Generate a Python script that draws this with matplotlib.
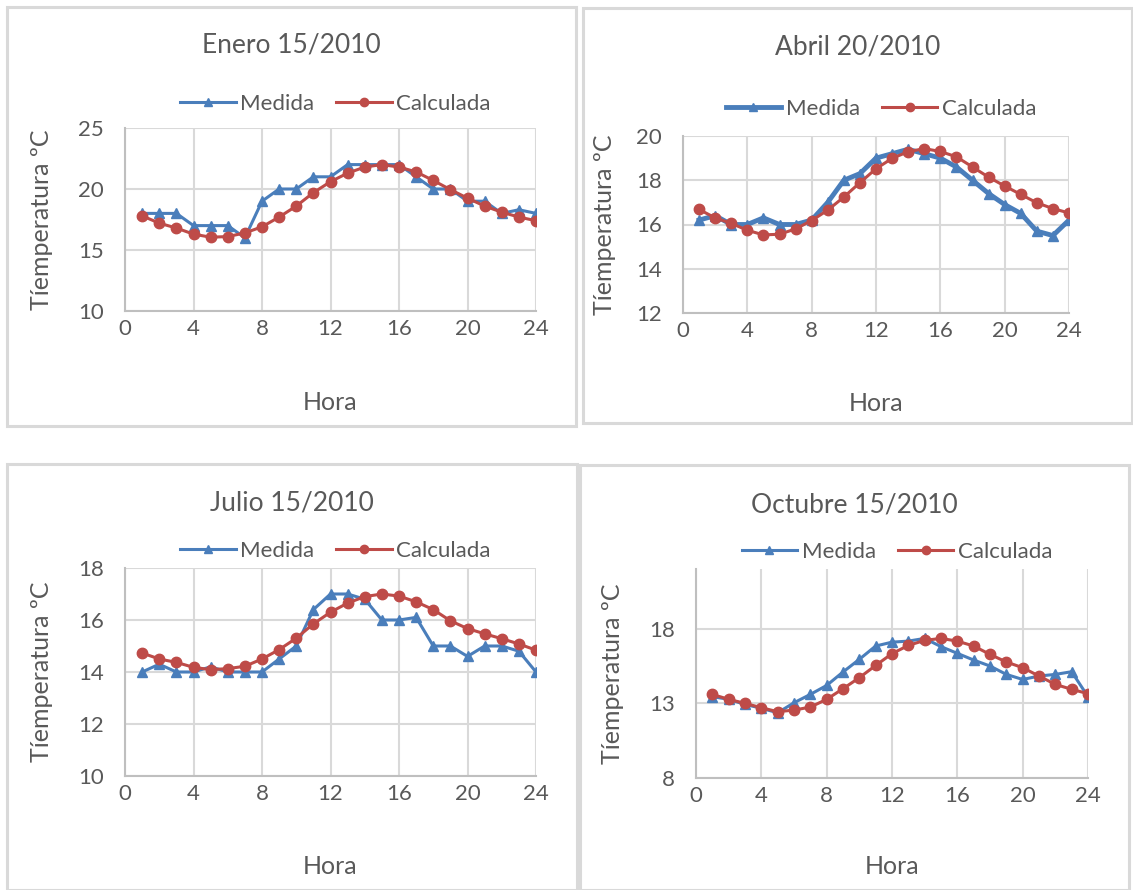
import matplotlib
matplotlib.use('Agg')
import matplotlib.pyplot as plt
from matplotlib.patches import Rectangle

plt.rcParams['font.family'] = ['Lato', 'DejaVu Sans']

W, H = 1133, 890

horas = list(range(1, 25))

# Enero 15/2010
enero_medida = [18, 18, 18, 17, 17, 17, 16, 19, 20, 20, 21, 21,
                22, 22, 22, 22, 21, 20, 20, 19, 19, 18, 18.3, 18]
enero_calculada = [17.8, 17.2, 16.8, 16.3, 16.05, 16.1, 16.4, 16.9, 17.7, 18.6, 19.7, 20.6,
                   21.3, 21.8, 22.0, 21.8, 21.4, 20.7, 19.95, 19.25, 18.6, 18.1, 17.7, 17.4]

# Abril 20/2010
abril_medida = [16.2, 16.4, 16.0, 16.0, 16.3, 16.0, 16.0, 16.2, 17.0, 18.0, 18.3, 19.0,
                19.2, 19.4, 19.2, 19.0, 18.6, 18.0, 17.4, 16.9, 16.5, 15.7, 15.5, 16.2]
abril_calculada = [16.68, 16.3, 16.05, 15.74, 15.53, 15.56, 15.8, 16.18, 16.65, 17.24, 17.89, 18.52,
                   18.99, 19.29, 19.43, 19.3, 19.06, 18.6, 18.14, 17.74, 17.36, 16.98, 16.72, 16.52]

# Julio 15/2010
julio_medida = [14.0, 14.3, 14.0, 14.0, 14.2, 14.0, 14.0, 14.0, 14.5, 15.0, 16.4, 17.0,
                17.0, 16.8, 16.0, 16.0, 16.1, 15.0, 15.0, 14.6, 15.0, 15.0, 14.8, 14.0]
julio_calculada = [14.73, 14.5, 14.37, 14.18, 14.09, 14.13, 14.22, 14.5, 14.86, 15.3, 15.85, 16.3,
                   16.65, 16.9, 17.0, 16.92, 16.7, 16.4, 15.97, 15.67, 15.47, 15.28, 15.08, 14.84]

# Octubre 15/2010
octubre_medida = [13.45, 13.27, 12.93, 12.67, 12.37, 13.04, 13.6, 14.2, 15.1, 15.95, 16.84, 17.1,
                  17.17, 17.35, 16.8, 16.35, 15.9, 15.5, 14.94, 14.6, 14.83, 14.94, 15.12, 13.45]
octubre_calculada = [13.6, 13.27, 13.0, 12.71, 12.44, 12.55, 12.75, 13.27, 13.98, 14.72, 15.54, 16.33,
                     16.88, 17.22, 17.35, 17.17, 16.84, 16.28, 15.77, 15.39, 14.83, 14.27, 13.94, 13.65]

BLUE = '#4a7ebb'
RED = '#be4b48'
TXT = '#595959'
GRID = '#d9d9d9'

fig = plt.figure(figsize=(W / 100, H / 100), dpi=100)


def fx(x):
    return x / W


def fy(y):
    return 1 - y / H


def panel(box, area, title, title_y, leg_y, ylab_x, xlab_y, medida, calculada,
          ylim, yticks, blue_lw=2.2):
    # grey frame around each chart
    bx0, by0, bx1, by1 = box
    fig.patches.append(Rectangle((fx(bx0), fy(by1)), fx(bx1 - bx0), (by1 - by0) / H,
                                 transform=fig.transFigure, fill=False,
                                 ec=GRID, lw=2.2))
    x0, y0, x1, y1 = area
    ax = fig.add_axes([fx(x0), fy(y1), fx(x1 - x0), (y1 - y0) / H])
    ax.plot(horas, medida, color=BLUE, lw=blue_lw, marker='^', ms=7.5,
            label='Medida', zorder=3)
    ax.plot(horas, calculada, color=RED, lw=2.2, marker='o', ms=7.5,
            label='Calculada', zorder=3)
    ax.set_xlim(0, 24)
    ax.set_xticks([0, 4, 8, 12, 16, 20, 24])
    ax.set_ylim(*ylim)
    ax.set_yticks(yticks)
    ax.grid(True, color=GRID, lw=1.5)
    ax.set_axisbelow(True)
    for s in ['top', 'right']:
        ax.spines[s].set_visible(False)
    for s in ['left', 'bottom']:
        ax.spines[s].set_color('#bfbfbf')
        ax.spines[s].set_linewidth(1.5)
    ax.tick_params(length=0, labelsize=16, colors=TXT)
    ax.tick_params(axis='x', pad=6)
    ax.tick_params(axis='y', pad=15)
    cx = (bx0 + bx1) / 2
    fig.text(fx(cx), fy(title_y), title, ha='center', va='center',
             fontsize=19, color=TXT)
    fig.text(fx(ylab_x), fy((y0 + y1) / 2), 'Tíemperatura ºC', rotation=90,
             ha='center', va='center', fontsize=18, color=TXT)
    fig.text(fx((x0 + x1) / 2), fy(xlab_y), 'Hora', ha='center', va='center',
             fontsize=18, color=TXT)
    fig.legend(handles=ax.get_lines(), loc='center',
               bbox_to_anchor=(fx((x0 + x1) / 2 + 5), fy(leg_y)), ncol=2,
               frameon=False, fontsize=16, handlelength=2.5, handletextpad=0.2,
               columnspacing=1.0, markerscale=0.8, labelcolor=TXT)
    return ax


panel((7, 7, 576, 426), (125, 128, 536, 311), 'Enero 15/2010', 45, 104, 42, 403,
      enero_medida, enero_calculada, (10, 25), [10, 15, 20, 25])
panel((583, 8, 1132, 423), (683, 136, 1069, 313), 'Abril 20/2010', 47, 109, 605, 404,
      abril_medida, abril_calculada, (12, 20), [12, 14, 16, 18, 20], blue_lw=3.5)
panel((7, 464, 577, 890), (125, 568, 536, 776), 'Julio 15/2010', 503, 551, 42, 866,
      julio_medida, julio_calculada, (10, 18), [10, 12, 14, 16, 18])
panel((580, 465, 1129, 890), (696, 569, 1088, 778), 'Octubre 15/2010', 505, 552, 612, 867,
      octubre_medida, octubre_calculada, (8, 22), [8, 13, 18])

fig.savefig('out.png', dpi=100)
